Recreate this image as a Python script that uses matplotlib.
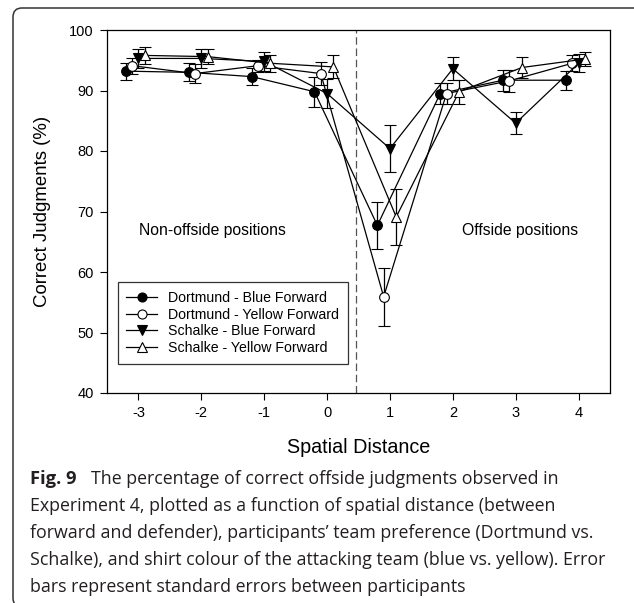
import matplotlib
matplotlib.use("Agg")
import matplotlib.pyplot as plt
from matplotlib.lines import Line2D
from matplotlib.patches import FancyBboxPatch
from matplotlib.transforms import IdentityTransform

# ============================================================
# DATA
# ============================================================

distances = [-3, -2, -1, 0, 1, 2, 3, 4]

dortmund_blue      = [93.2, 93.0, 92.3, 89.8, 67.7, 89.5, 91.7, 91.7]
dortmund_blue_se   = [1.4, 1.5, 1.4, 2.5, 3.9, 1.8, 1.7, 1.6]
dortmund_yellow    = [94.1, 92.8, 94.1, 92.8, 55.9, 89.5, 91.6, 94.5]
dortmund_yellow_se = [1.3, 1.6, 1.0, 1.9, 4.8, 1.7, 1.8, 1.3]
schalke_blue       = [95.3, 95.3, 94.8, 89.5, 80.4, 93.6, 84.6, 94.5]
schalke_blue_se    = [1.6, 1.6, 1.6, 2.4, 3.9, 1.9, 1.8, 1.5]
schalke_yellow     = [95.8, 95.6, 94.5, 93.9, 69.1, 89.8, 93.8, 95.2]
schalke_yellow_se  = [1.4, 1.3, 1.4, 1.9, 4.7, 2.0, 1.8, 1.1]

series_labels = ["Dortmund - Blue Forward", "Dortmund - Yellow Forward",
                 "Schalke - Blue Forward", "Schalke - Yellow Forward"]

caption_lines = [
    "The percentage of correct offside judgments observed in",
    "Experiment 4, plotted as a function of spatial distance (between",
    "forward and defender), participants\u2019 team preference (Dortmund vs.",
    "Schalke), and shirt colour of the attacking team (blue vs. yellow). Error",
    "bars represent standard errors between participants",
]

# ============================================================
# FIGURE
# ============================================================

W, H = 634, 603
plt.rcParams["font.family"] = ["Liberation Sans", "DejaVu Sans"]
plt.rcParams["axes.unicode_minus"] = False
fig = plt.figure(figsize=(W / 100, H / 100), dpi=100)
ax = fig.add_axes([107 / W, 1 - 393 / H, (610 - 107) / W, (393 - 30) / H])

series = [
    (dortmund_blue, dortmund_blue_se, "o", "black"),
    (dortmund_yellow, dortmund_yellow_se, "o", "white"),
    (schalke_blue, schalke_blue_se, "v", "black"),
    (schalke_yellow, schalke_yellow_se, "^", "white"),
]
offsets = [-0.2, -0.1, 0.0, 0.1]  # small horizontal jitter as in the original

handles = []
for (vals, se, mk, fc), off, lab in zip(series, offsets, series_labels):
    xs = [d + off for d in distances]
    ax.errorbar(xs, vals, yerr=se, fmt="-", color="black", lw=0.9,
                elinewidth=0.9, capsize=4, capthick=0.9,
                marker=mk, markersize=7, markerfacecolor=fc,
                markeredgecolor="black", markeredgewidth=0.8)
    handles.append(Line2D([], [], color="black", lw=0.9, marker=mk,
                          markersize=6.5, markerfacecolor=fc,
                          markeredgecolor="black", markeredgewidth=0.8,
                          label=lab))

ax.axvline(0.46, color="#555555", lw=0.9, ls=(0, (6, 3)))

ax.set_xlim(-3.5, 4.5)
ax.set_ylim(40, 100)
ax.set_xticks(distances)
ax.set_yticks([40, 50, 60, 70, 80, 90, 100])
ax.tick_params(direction="out", length=5, width=0.8, labelsize=10.5, pad=4.5,
               top=False, right=False)
for s in ax.spines.values():
    s.set_linewidth(0.9)

ax.set_xlabel("Spatial Distance", fontsize=14.2, labelpad=13)
ax.set_ylabel("Correct Judgments (%)", fontsize=13.4, labelpad=13)

ax.text(-2.99, 66.8, "Non-offside positions", fontsize=11.3, va="center")
ax.text(2.14, 66.8, "Offside positions", fontsize=11.3, va="center")

leg = ax.legend(handles=handles, loc="upper left",
                bbox_to_anchor=(0.0215, 0.305), borderaxespad=0,
                fontsize=10.2, frameon=True, fancybox=False,
                edgecolor="black", handlelength=2.2, handletextpad=0.75,
                labelspacing=0.2, borderpad=0.6)
leg.get_frame().set_linewidth(0.9)

# ---- caption -----------------------------------------------
cap_font = ["Open Sans", "DejaVu Sans"]
cap_size = 12.8
baselines = [484, 511, 538, 565, 592]
fig.text(30 / W, 1 - baselines[0] / H, "Fig. 9", fontsize=cap_size + 0.4,
         family=cap_font, fontweight="bold", va="baseline", color="#231f20")
fig.text(91 / W, 1 - baselines[0] / H, caption_lines[0], fontsize=cap_size,
         family=cap_font, va="baseline", color="#231f20")
for line, yb in zip(caption_lines[1:], baselines[1:]):
    fig.text(30 / W, 1 - yb / H, line, fontsize=cap_size, family=cap_font,
             va="baseline", color="#231f20")

# ---- rounded frame around the figure -----------------------
frame = FancyBboxPatch((13, -4), 640, 599,
                       boxstyle="round,pad=0,rounding_size=9",
                       transform=IdentityTransform(), fill=False,
                       edgecolor="#333333", lw=1.1)
fig.patches.append(frame)

fig.savefig("out.png", dpi=100)
